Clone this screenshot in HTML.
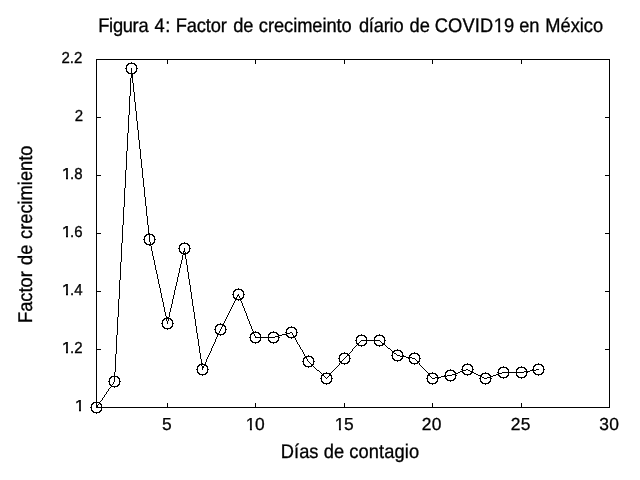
<!DOCTYPE html>
<html><head><meta charset="utf-8"><title>Figura 4</title>
<style>
html,body{margin:0;padding:0;background:#fff;}
body{width:640px;height:480px;position:relative;overflow:hidden;font-family:"Liberation Sans",sans-serif;color:#000;}
svg{position:absolute;left:0;top:0;}
#txt{position:absolute;left:0;top:0;width:640px;height:480px;will-change:transform;}
#txt span{position:absolute;display:block;white-space:nowrap;line-height:normal;-webkit-text-stroke:0.3px #000;text-rendering:geometricPrecision;}
.t{font-size:18.3px;}
.yt{font-size:15.0px;}
.xt{font-size:17.4px;}
i{font-style:normal;display:inline-block;}
.yt i{margin-left:.6px;margin-right:-.4px;transform:scaleX(1.18);transform-origin:1.44px 0;clip-path:polygon(0 0,100% 0,100% 10.9px,0.352em 10.9px,0.352em 1.2em,0.24em 1.2em,0.24em 10.9px,0 10.9px);}
.xt i{margin-left:.7px;margin-right:-.7px;clip-path:polygon(0 0,100% 0,100% 14.1px,0.352em 14.1px,0.352em 1.2em,0.24em 1.2em,0.24em 14.1px,0 14.1px);}
.t i{margin-left:.6px;clip-path:polygon(0 0,100% 0,100% 15.1px,0.352em 15.1px,0.352em 1.2em,0.24em 1.2em,0.24em 15.1px,0 15.1px);}
</style></head>
<body>
<svg width="640" height="480" viewBox="0 0 640 480" shape-rendering="crispEdges">
<rect x="96.5" y="59.5" width="513" height="348" fill="none" stroke="#000" stroke-width="1"/>
<path d="M167.5 407v-4M167.5 60v4M255.5 407v-4M255.5 60v4M344.5 407v-4M344.5 60v4M432.5 407v-4M432.5 60v4M521.5 407v-4M521.5 60v4M97 349.5h4M609 349.5h-4M97 291.5h4M609 291.5h-4M97 233.5h4M609 233.5h-4M97 175.5h4M609 175.5h-4M97 117.5h4M609 117.5h-4" stroke="#000" stroke-width="1" fill="none"/>
<path d="M128 63h7v1h-7zM127 64h2v1h-2zM134 64h2v1h-2zM126 65h2v1h-2zM135 65h2v1h-2zM125 68h2v1h-2zM136 68h2v1h-2zM126 71h2v1h-2zM135 71h2v1h-2zM127 72h2v1h-2zM134 72h2v1h-2zM128 73h7v1h-7zM131 74h2v1h-2zM131 75h2v1h-2zM131 76h2v1h-2zM131 77h2v1h-2zM148 233h2v1h-2zM146 234h7v1h-7zM145 235h2v1h-2zM152 235h2v1h-2zM144 236h2v1h-2zM153 236h2v1h-2zM143 239h2v1h-2zM154 239h2v1h-2zM144 242h2v1h-2zM153 242h2v1h-2zM145 243h2v1h-2zM152 243h2v1h-2zM181 243h7v1h-7zM146 244h7v1h-7zM180 244h2v1h-2zM187 244h2v1h-2zM149 245h2v1h-2zM179 245h2v1h-2zM188 245h2v1h-2zM178 248h2v1h-2zM189 248h2v1h-2zM179 251h2v1h-2zM183 251h2v1h-2zM188 251h2v1h-2zM180 252h2v1h-2zM187 252h2v1h-2zM181 253h7v1h-7zM183 254h3v1h-3zM235 289h7v1h-7zM234 290h2v1h-2zM241 290h2v1h-2zM233 291h2v1h-2zM242 291h2v1h-2zM232 294h2v1h-2zM243 294h2v1h-2zM237 295h2v1h-2zM233 297h2v1h-2zM242 297h2v1h-2zM234 298h3v1h-3zM240 298h3v1h-3zM235 299h7v1h-7zM166 317h3v1h-3zM164 318h7v1h-7zM163 319h2v1h-2zM170 319h2v1h-2zM162 320h2v1h-2zM171 320h2v1h-2zM161 323h2v1h-2zM172 323h2v1h-2zM217 324h7v1h-7zM216 325h2v1h-2zM222 325h3v1h-3zM162 326h2v1h-2zM171 326h2v1h-2zM215 326h2v1h-2zM224 326h2v1h-2zM163 327h2v1h-2zM170 327h2v1h-2zM288 327h7v1h-7zM164 328h7v1h-7zM287 328h2v1h-2zM294 328h2v1h-2zM214 329h2v1h-2zM225 329h2v1h-2zM286 329h2v1h-2zM295 329h2v1h-2zM215 332h2v1h-2zM224 332h2v1h-2zM252 332h7v1h-7zM270 332h7v1h-7zM285 332h2v1h-2zM290 332h2v1h-2zM296 332h2v1h-2zM216 333h3v1h-3zM223 333h2v1h-2zM251 333h3v1h-3zM258 333h2v1h-2zM269 333h2v1h-2zM276 333h2v1h-2zM286 333h4v1h-4zM217 334h7v1h-7zM250 334h2v1h-2zM259 334h2v1h-2zM268 334h2v1h-2zM277 334h2v1h-2zM282 334h5v1h-5zM278 335h4v1h-4zM286 335h2v1h-2zM295 335h2v1h-2zM358 335h7v1h-7zM376 335h7v1h-7zM275 336h4v1h-4zM287 336h2v1h-2zM293 336h3v1h-3zM357 336h2v1h-2zM364 336h2v1h-2zM375 336h2v1h-2zM382 336h2v1h-2zM249 337h2v1h-2zM255 337h20v1h-20zM278 337h2v1h-2zM288 337h7v1h-7zM356 337h2v1h-2zM365 337h2v1h-2zM374 337h2v1h-2zM383 337h2v1h-2zM250 340h2v1h-2zM259 340h2v1h-2zM268 340h2v1h-2zM277 340h2v1h-2zM355 340h2v1h-2zM361 340h19v1h-19zM384 340h2v1h-2zM251 341h2v1h-2zM258 341h2v1h-2zM269 341h2v1h-2zM276 341h2v1h-2zM252 342h7v1h-7zM270 342h7v1h-7zM356 343h3v1h-3zM365 343h2v1h-2zM374 343h2v1h-2zM382 343h3v1h-3zM357 344h2v1h-2zM364 344h2v1h-2zM375 344h2v1h-2zM382 344h3v1h-3zM358 345h7v1h-7zM376 345h7v1h-7zM388 348h2v1h-2zM394 350h7v1h-7zM392 351h3v1h-3zM400 351h2v1h-2zM392 352h2v1h-2zM401 352h2v1h-2zM341 353h7v1h-7zM394 353h2v1h-2zM411 353h7v1h-7zM340 354h2v1h-2zM347 354h2v1h-2zM410 354h2v1h-2zM417 354h2v1h-2zM339 355h2v1h-2zM347 355h3v1h-3zM391 355h2v1h-2zM397 355h3v1h-3zM402 355h2v1h-2zM409 355h2v1h-2zM418 355h2v1h-2zM305 356h7v1h-7zM400 356h6v1h-6zM304 357h3v1h-3zM311 357h2v1h-2zM406 357h6v1h-6zM303 358h2v1h-2zM312 358h2v1h-2zM338 358h2v1h-2zM349 358h2v1h-2zM392 358h2v1h-2zM401 358h2v1h-2zM408 358h2v1h-2zM412 358h3v1h-3zM419 358h2v1h-2zM393 359h2v1h-2zM400 359h2v1h-2zM394 360h7v1h-7zM302 361h2v1h-2zM313 361h2v1h-2zM339 361h3v1h-3zM348 361h2v1h-2zM409 361h2v1h-2zM417 361h3v1h-3zM340 362h2v1h-2zM347 362h2v1h-2zM410 362h2v1h-2zM417 362h2v1h-2zM201 363h2v1h-2zM341 363h7v1h-7zM411 363h7v1h-7zM199 364h7v1h-7zM303 364h2v1h-2zM311 364h3v1h-3zM464 364h7v1h-7zM535 364h7v1h-7zM198 365h2v1h-2zM204 365h3v1h-3zM304 365h2v1h-2zM311 365h2v1h-2zM463 365h2v1h-2zM470 365h2v1h-2zM534 365h2v1h-2zM541 365h2v1h-2zM197 366h2v1h-2zM202 366h2v1h-2zM206 366h2v1h-2zM305 366h7v1h-7zM462 366h2v1h-2zM471 366h2v1h-2zM533 366h2v1h-2zM542 366h2v1h-2zM202 367h2v1h-2zM500 367h7v1h-7zM518 367h7v1h-7zM499 368h2v1h-2zM506 368h2v1h-2zM517 368h2v1h-2zM524 368h2v1h-2zM196 369h2v1h-2zM207 369h2v1h-2zM461 369h2v1h-2zM466 369h2v1h-2zM472 369h2v1h-2zM498 369h2v1h-2zM507 369h2v1h-2zM516 369h2v1h-2zM525 369h2v1h-2zM532 369h2v1h-2zM536 369h3v1h-3zM543 369h2v1h-2zM317 370h2v1h-2zM447 370h7v1h-7zM462 370h4v1h-4zM468 370h2v1h-2zM530 370h6v1h-6zM446 371h2v1h-2zM453 371h2v1h-2zM460 371h3v1h-3zM470 371h3v1h-3zM524 371h6v1h-6zM197 372h2v1h-2zM206 372h2v1h-2zM445 372h2v1h-2zM454 372h2v1h-2zM458 372h2v1h-2zM462 372h2v1h-2zM471 372h3v1h-3zM497 372h2v1h-2zM502 372h22v1h-22zM526 372h2v1h-2zM533 372h2v1h-2zM542 372h2v1h-2zM198 373h2v1h-2zM205 373h2v1h-2zM323 373h8v1h-8zM428 373h8v1h-8zM455 373h3v1h-3zM463 373h2v1h-2zM470 373h2v1h-2zM474 373h2v1h-2zM482 373h7v1h-7zM498 373h4v1h-4zM534 373h2v1h-2zM541 373h2v1h-2zM199 374h7v1h-7zM322 374h2v1h-2zM329 374h2v1h-2zM428 374h2v1h-2zM435 374h2v1h-2zM452 374h4v1h-4zM464 374h7v1h-7zM476 374h2v1h-2zM481 374h2v1h-2zM488 374h2v1h-2zM496 374h3v1h-3zM535 374h7v1h-7zM321 375h3v1h-3zM329 375h3v1h-3zM427 375h3v1h-3zM436 375h2v1h-2zM444 375h2v1h-2zM447 375h5v1h-5zM455 375h2v1h-2zM478 375h4v1h-4zM489 375h2v1h-2zM493 375h3v1h-3zM498 375h2v1h-2zM507 375h2v1h-2zM516 375h2v1h-2zM525 375h2v1h-2zM111 376h7v1h-7zM441 376h6v1h-6zM480 376h2v1h-2zM490 376h3v1h-3zM499 376h2v1h-2zM506 376h2v1h-2zM517 376h2v1h-2zM524 376h2v1h-2zM110 377h2v1h-2zM117 377h2v1h-2zM435 377h6v1h-6zM482 377h2v1h-2zM487 377h4v1h-4zM500 377h7v1h-7zM518 377h7v1h-7zM109 378h2v1h-2zM118 378h2v1h-2zM320 378h2v1h-2zM331 378h2v1h-2zM426 378h2v1h-2zM432 378h3v1h-3zM437 378h2v1h-2zM445 378h2v1h-2zM454 378h2v1h-2zM479 378h2v1h-2zM484 378h3v1h-3zM490 378h2v1h-2zM446 379h2v1h-2zM453 379h2v1h-2zM447 380h7v1h-7zM108 381h2v1h-2zM119 381h2v1h-2zM321 381h2v1h-2zM330 381h2v1h-2zM427 381h2v1h-2zM436 381h2v1h-2zM480 381h2v1h-2zM489 381h2v1h-2zM322 382h2v1h-2zM329 382h2v1h-2zM428 382h2v1h-2zM435 382h2v1h-2zM481 382h2v1h-2zM488 382h2v1h-2zM323 383h7v1h-7zM429 383h7v1h-7zM482 383h7v1h-7zM109 384h2v1h-2zM118 384h2v1h-2zM110 385h2v1h-2zM117 385h2v1h-2zM111 386h7v1h-7zM93 402h7v1h-7zM92 403h2v1h-2zM99 403h2v1h-2zM91 404h2v1h-2zM100 404h2v1h-2zM90 407h2v1h-2zM101 407h2v1h-2zM91 410h2v1h-2zM100 410h2v1h-2zM92 411h2v1h-2zM99 411h2v1h-2zM93 412h7v1h-7zM91 405h1v2h-1zM91 408h1v2h-1zM96 401h1v1h-1zM96 407h1v1h-1zM96 413h1v1h-1zM97 405h1v2h-1zM98 404h1v1h-1zM100 401h1v1h-1zM101 400h1v1h-1zM101 405h1v2h-1zM101 408h1v2h-1zM102 398h1v2h-1zM103 397h1v1h-1zM104 395h1v2h-1zM105 394h1v1h-1zM106 392h1v2h-1zM107 391h1v1h-1zM108 389h1v2h-1zM109 379h1v2h-1zM109 382h1v2h-1zM109 388h1v1h-1zM110 387h1v1h-1zM112 384h1v1h-1zM113 382h1v2h-1zM114 372h1v4h-1zM114 377h1v5h-1zM114 387h1v1h-1zM115 354h1v18h-1zM116 335h1v19h-1zM117 317h1v18h-1zM118 299h1v18h-1zM119 280h1v19h-1zM119 379h1v2h-1zM119 382h1v2h-1zM120 262h1v18h-1zM121 243h1v19h-1zM122 225h1v18h-1zM123 207h1v18h-1zM124 188h1v19h-1zM125 170h1v18h-1zM126 66h1v2h-1zM126 69h1v2h-1zM126 151h1v19h-1zM127 133h1v18h-1zM128 115h1v18h-1zM129 96h1v19h-1zM130 78h1v18h-1zM131 62h1v1h-1zM131 68h1v5h-1zM132 78h1v5h-1zM133 83h1v9h-1zM134 92h1v10h-1zM135 102h1v9h-1zM136 66h1v2h-1zM136 69h1v2h-1zM136 111h1v10h-1zM137 121h1v9h-1zM138 130h1v10h-1zM139 140h1v9h-1zM140 149h1v10h-1zM141 159h1v9h-1zM142 168h1v10h-1zM143 178h1v9h-1zM144 187h1v10h-1zM144 237h1v2h-1zM144 240h1v2h-1zM145 197h1v9h-1zM146 206h1v10h-1zM147 216h1v9h-1zM148 225h1v8h-1zM149 235h1v7h-1zM150 242h1v2h-1zM151 246h1v5h-1zM152 251h1v5h-1zM153 256h1v4h-1zM154 237h1v2h-1zM154 240h1v2h-1zM154 260h1v5h-1zM155 265h1v5h-1zM156 270h1v4h-1zM157 274h1v5h-1zM158 279h1v5h-1zM159 284h1v4h-1zM160 288h1v5h-1zM161 293h1v5h-1zM162 298h1v4h-1zM162 321h1v2h-1zM162 324h1v2h-1zM163 302h1v5h-1zM164 307h1v5h-1zM165 312h1v4h-1zM166 316h1v1h-1zM166 319h1v2h-1zM167 321h1v3h-1zM167 329h1v1h-1zM168 319h1v2h-1zM169 312h1v5h-1zM170 308h1v4h-1zM171 304h1v4h-1zM172 299h1v5h-1zM172 321h1v2h-1zM172 324h1v2h-1zM173 295h1v4h-1zM174 290h1v5h-1zM175 286h1v4h-1zM176 282h1v4h-1zM177 277h1v5h-1zM178 273h1v4h-1zM179 246h1v2h-1zM179 249h1v2h-1zM179 268h1v5h-1zM180 264h1v4h-1zM181 260h1v4h-1zM182 255h1v5h-1zM183 252h1v1h-1zM184 242h1v1h-1zM184 248h1v3h-1zM185 252h1v1h-1zM185 255h1v4h-1zM186 259h1v6h-1zM187 265h1v7h-1zM188 272h1v7h-1zM189 246h1v2h-1zM189 249h1v2h-1zM189 279h1v6h-1zM190 285h1v7h-1zM191 292h1v7h-1zM192 299h1v7h-1zM193 306h1v6h-1zM194 312h1v7h-1zM195 319h1v7h-1zM196 326h1v7h-1zM197 333h1v6h-1zM197 367h1v2h-1zM197 370h1v2h-1zM198 339h1v7h-1zM199 346h1v7h-1zM200 353h1v6h-1zM201 359h1v4h-1zM201 365h1v1h-1zM202 368h1v2h-1zM202 375h1v1h-1zM205 362h1v2h-1zM206 359h1v3h-1zM207 357h1v2h-1zM207 367h1v2h-1zM207 370h1v2h-1zM208 355h1v2h-1zM209 353h1v2h-1zM210 351h1v2h-1zM211 348h1v3h-1zM212 346h1v2h-1zM213 344h1v2h-1zM214 342h1v2h-1zM215 327h1v2h-1zM215 330h1v2h-1zM215 339h1v3h-1zM216 337h1v2h-1zM217 335h1v2h-1zM219 331h1v2h-1zM220 323h1v1h-1zM220 329h1v2h-1zM220 335h1v1h-1zM221 327h1v2h-1zM222 326h1v1h-1zM223 323h1v1h-1zM224 321h1v2h-1zM225 319h1v2h-1zM225 327h1v2h-1zM225 330h1v2h-1zM226 317h1v2h-1zM227 315h1v2h-1zM228 313h1v2h-1zM229 311h1v2h-1zM230 309h1v2h-1zM231 307h1v2h-1zM232 305h1v2h-1zM233 292h1v2h-1zM233 295h1v2h-1zM233 303h1v2h-1zM234 301h1v2h-1zM235 300h1v1h-1zM236 297h1v1h-1zM237 296h1v1h-1zM238 288h1v1h-1zM238 294h1v1h-1zM238 300h1v1h-1zM239 296h1v2h-1zM240 300h1v1h-1zM241 301h1v2h-1zM242 303h1v3h-1zM243 292h1v2h-1zM243 295h1v2h-1zM243 306h1v2h-1zM244 308h1v3h-1zM245 311h1v2h-1zM246 313h1v3h-1zM247 316h1v3h-1zM248 319h1v2h-1zM249 321h1v3h-1zM250 324h1v2h-1zM250 335h1v2h-1zM250 338h1v2h-1zM251 326h1v3h-1zM252 329h1v2h-1zM253 331h1v1h-1zM254 334h1v2h-1zM255 331h1v1h-1zM255 336h1v1h-1zM255 343h1v1h-1zM260 335h1v2h-1zM260 338h1v2h-1zM268 335h1v2h-1zM268 338h1v2h-1zM273 331h1v1h-1zM273 343h1v1h-1zM278 338h1v2h-1zM286 330h1v2h-1zM291 326h1v1h-1zM291 338h1v1h-1zM292 333h1v2h-1zM293 335h1v1h-1zM295 338h1v2h-1zM296 330h1v2h-1zM296 333h1v2h-1zM296 340h1v2h-1zM297 342h1v2h-1zM298 344h1v1h-1zM299 345h1v2h-1zM300 347h1v2h-1zM301 349h1v1h-1zM302 350h1v2h-1zM303 352h1v2h-1zM303 359h1v2h-1zM303 362h1v2h-1zM304 354h1v2h-1zM306 358h1v1h-1zM307 359h1v2h-1zM308 355h1v1h-1zM308 361h1v1h-1zM308 367h1v1h-1zM309 362h1v1h-1zM310 363h1v1h-1zM313 359h1v2h-1zM313 362h1v2h-1zM313 366h1v1h-1zM314 367h1v1h-1zM315 368h1v1h-1zM316 369h1v1h-1zM319 371h1v1h-1zM320 372h1v1h-1zM321 373h1v1h-1zM321 376h1v2h-1zM321 379h1v2h-1zM324 376h1v1h-1zM325 377h1v1h-1zM326 372h1v1h-1zM326 378h1v1h-1zM326 384h1v1h-1zM327 377h1v1h-1zM328 376h1v1h-1zM331 372h1v1h-1zM331 376h1v2h-1zM331 379h1v2h-1zM332 371h1v1h-1zM333 370h1v1h-1zM334 369h1v1h-1zM335 368h1v1h-1zM336 367h1v1h-1zM337 366h1v1h-1zM338 365h1v1h-1zM339 356h1v2h-1zM339 359h1v2h-1zM339 363h1v2h-1zM342 360h1v1h-1zM343 359h1v1h-1zM344 352h1v1h-1zM344 358h1v1h-1zM344 364h1v1h-1zM345 357h1v1h-1zM346 356h1v1h-1zM349 353h1v1h-1zM349 356h1v2h-1zM349 359h1v2h-1zM350 352h1v1h-1zM351 351h1v1h-1zM352 349h1v2h-1zM353 348h1v1h-1zM354 347h1v1h-1zM355 346h1v1h-1zM356 338h1v2h-1zM356 341h1v2h-1zM356 345h1v1h-1zM359 342h1v1h-1zM360 341h1v1h-1zM361 334h1v1h-1zM361 346h1v1h-1zM366 338h1v2h-1zM366 341h1v2h-1zM374 338h1v2h-1zM374 341h1v2h-1zM379 334h1v1h-1zM379 346h1v1h-1zM380 341h1v1h-1zM381 342h1v1h-1zM384 338h1v2h-1zM384 341h1v2h-1zM385 345h1v1h-1zM386 346h1v1h-1zM387 347h1v1h-1zM390 349h1v1h-1zM391 350h1v1h-1zM392 353h1v2h-1zM392 356h1v2h-1zM396 354h1v1h-1zM397 349h1v1h-1zM397 361h1v1h-1zM402 353h1v2h-1zM402 357h1v1h-1zM409 356h1v1h-1zM409 359h1v2h-1zM414 352h1v1h-1zM414 364h1v1h-1zM415 359h1v1h-1zM416 360h1v1h-1zM419 356h1v2h-1zM419 359h1v2h-1zM419 363h1v2h-1zM420 365h1v1h-1zM421 366h1v1h-1zM422 367h1v1h-1zM423 368h1v1h-1zM424 369h1v1h-1zM425 370h1v1h-1zM426 371h1v1h-1zM427 372h1v1h-1zM427 376h1v2h-1zM427 379h1v2h-1zM430 376h1v1h-1zM431 377h1v1h-1zM432 372h1v1h-1zM432 384h1v1h-1zM437 376h1v1h-1zM437 379h1v2h-1zM445 373h1v2h-1zM445 377h1v1h-1zM450 369h1v1h-1zM450 381h1v1h-1zM455 376h1v2h-1zM462 367h1v2h-1zM467 363h1v1h-1zM467 375h1v1h-1zM472 367h1v2h-1zM472 370h1v1h-1zM480 377h1v1h-1zM480 379h1v2h-1zM485 372h1v1h-1zM485 384h1v1h-1zM490 379h1v2h-1zM498 370h1v2h-1zM503 366h1v1h-1zM503 378h1v1h-1zM508 370h1v2h-1zM508 373h1v2h-1zM516 370h1v2h-1zM516 373h1v2h-1zM521 366h1v1h-1zM521 378h1v1h-1zM526 370h1v1h-1zM526 373h1v2h-1zM533 367h1v2h-1zM533 371h1v1h-1zM538 363h1v1h-1zM538 375h1v1h-1zM543 367h1v2h-1zM543 370h1v2h-1z" fill="#000"/>
</svg>
<div id="txt">
<div class="title">
<span class="t" style="left:98.25px;top:15.00px;transform-origin:0 17px;transform:scaleY(1.08);letter-spacing:-0.3px;">Figura</span>
<span class="t" style="left:154.58px;top:15.00px;transform-origin:0 17px;transform:scaleY(1.08);letter-spacing:0.5px;">4:</span>
<span class="t" style="left:175.65px;top:15.00px;transform-origin:0 17px;transform:scaleY(1.08);letter-spacing:-0.1px;">Factor</span>
<span class="t" style="left:233.18px;top:15.00px;transform-origin:0 17px;transform:scaleY(1.08);">de</span>
<span class="t" style="left:258.87px;top:15.00px;transform-origin:0 17px;transform:scaleY(1.08);letter-spacing:-0.06px;">crecimeinto</span>
<span class="t" style="left:358.88px;top:15.00px;transform-origin:0 17px;transform:scaleY(1.08);letter-spacing:-0.2px;">díario</span>
<span class="t" style="left:409.48px;top:15.00px;transform-origin:0 17px;transform:scaleY(1.08);">de</span>
<span class="t" style="left:434.82px;top:15.00px;transform-origin:0 17px;transform:scaleY(1.08);letter-spacing:0.1px;">COVID<i>1</i>9</span>
<span class="t" style="left:519.17px;top:15.00px;transform-origin:0 17px;transform:scaleY(1.08);">en</span>
<span class="t" style="left:545.25px;top:15.00px;transform-origin:0 17px;transform:scaleY(1.08);">México</span>
</div>
<div class="xlabel">
<span class="t" style="left:280.85px;top:441.00px;transform-origin:0 17px;transform:scaleY(1.08);">Días</span>
<span class="t" style="left:323.78px;top:441.00px;transform-origin:0 17px;transform:scaleY(1.08);">de</span>
<span class="t" style="left:349.17px;top:441.00px;transform-origin:0 17px;transform:scaleY(1.08);letter-spacing:0.12px;">contagio</span>
</div>
<div class="ylabel">
<span class="t" style="left:31.90px;top:305.55px;transform-origin:0 17px;transform:rotate(-90deg) scaleY(1.08);">Factor</span>
<span class="t" style="left:31.90px;top:247.92px;transform-origin:0 17px;transform:rotate(-90deg) scaleY(1.08);">de</span>
<span class="t" style="left:31.90px;top:221.53px;transform-origin:0 17px;transform:rotate(-90deg) scaleY(1.08);">crecimiento</span>
</div>
<div class="yticks">
<span class="yt" style="left:74.80px;top:398.20px;transform-origin:0 12.8px;transform:scaleY(1.06);"><i>1</i></span>
<span class="yt" style="left:61.50px;top:340.20px;transform-origin:0 12.8px;transform:scaleY(1.06);"><i>1</i>.2</span>
<span class="yt" style="left:61.50px;top:282.20px;transform-origin:0 12.8px;transform:scaleY(1.06);"><i>1</i>.4</span>
<span class="yt" style="left:61.50px;top:224.20px;transform-origin:0 12.8px;transform:scaleY(1.06);"><i>1</i>.6</span>
<span class="yt" style="left:61.50px;top:166.20px;transform-origin:0 12.8px;transform:scaleY(1.06);"><i>1</i>.8</span>
<span class="yt" style="left:74.80px;top:108.20px;transform-origin:0 12.8px;transform:scaleY(1.06);">2</span>
<span class="yt" style="left:61.50px;top:50.20px;transform-origin:0 12.8px;transform:scaleY(1.06);">2.2</span>
</div>
<div class="xticks">
<span class="xt" style="left:162.08px;top:413.90px;transform-origin:0 16px;transform:scaleY(1.0);letter-spacing:0.3px;">5</span>
<span class="xt" style="left:245.08px;top:413.90px;transform-origin:0 16px;transform:scaleY(1.0);letter-spacing:0.3px;"><i>1</i>0</span>
<span class="xt" style="left:334.10px;top:413.90px;transform-origin:0 16px;transform:scaleY(1.0);letter-spacing:0.3px;"><i>1</i>5</span>
<span class="xt" style="left:421.68px;top:413.90px;transform-origin:0 16px;transform:scaleY(1.0);letter-spacing:0.3px;">20</span>
<span class="xt" style="left:510.75px;top:413.90px;transform-origin:0 16px;transform:scaleY(1.0);letter-spacing:0.3px;">25</span>
<span class="xt" style="left:599.18px;top:413.90px;transform-origin:0 16px;transform:scaleY(1.0);letter-spacing:0.3px;">30</span>
</div>
</div>
</body></html>
